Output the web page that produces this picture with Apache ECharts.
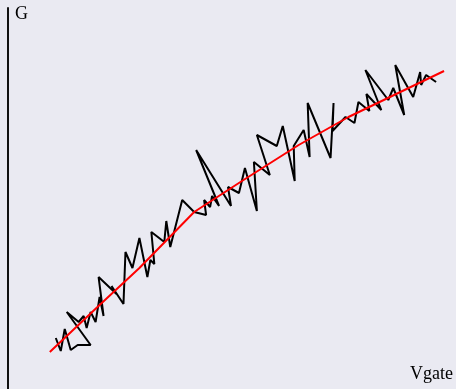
<!DOCTYPE html>
<html>
<head>
<meta charset="utf-8">
<script src="https://cdn.jsdelivr.net/npm/echarts@6/dist/echarts.min.js"></script>
<style>html,body{margin:0;padding:0;background:#eaeaf2}#c{width:456px;height:389px}</style>
</head>
<body>
<div id="c"></div>
<script>
const vgate = [4.8,5.3,5.7,6.3,7.0,8.3,5.9,7.1,7.6,7.9,8.3,8.8,9.2,9.6,9.1,10.9,10.4,11.6,11.8,12.5,13.2,14.0,14.3,14.7,14.4,15.7,15.9,16.3,17.5,18.7,19.9,19.7,20.3,20.5,21.2,18.9,22.4,22.1,23.2,23.8,25.0,24.7,26.3,25.0,27.0,27.6,28.8,28.7,29.7,30.3,30.1,32.4,32.7,32.6,33.9,34.8,35.2,36.3,36.0,37.5,35.9,38.2,38.7,39.8,38.9,40.7,41.4,41.5,42.0,43.0];
const gMeasured = [5.1,3.8,6.0,3.9,4.4,4.4,7.7,6.7,7.3,6.1,7.7,6.7,9.2,7.3,11.2,9.5,10.3,8.5,13.7,12.1,15.1,11.2,12.9,12.5,15.7,14.7,16.8,14.2,18.9,17.7,17.4,18.9,18.2,19.3,18.3,23.9,18.3,20.2,19.6,22.1,17.8,22.7,21.4,25.4,24.3,26.3,20.8,24.3,25.9,23.2,28.6,23.1,28.6,25.8,27.2,26.6,28.7,27.8,29.5,27.9,31.9,28.9,30.1,27.4,32.4,29.2,31.7,30.4,31.4,30.7];
// Fitted curve
const fitVgate = [4.2,9.2,13.2,18.7,23.5,29.2,34.2,39.2,43.8];
const fitG = [3.7,8.4,12.1,17.7,20.8,24.4,27.2,29.6,31.8];

const measured = vgate.map((v,i)=>[v,gMeasured[i]]);
const fit = fitVgate.map((v,i)=>[v,fitG[i]]);

const chart = echarts.init(document.getElementById('c'));
chart.setOption({
  backgroundColor:'#eaeaf2',
  animation:false,
  grid:{left:7,right:0,top:8,bottom:0},
  xAxis:{type:'value',min:-0.1,max:44.8,name:'Vgate',nameLocation:'end',nameGap:0,
    nameTextStyle:{fontFamily:'Liberation Serif',fontSize:18,color:'#000',align:'right',verticalAlign:'bottom',padding:[0,1,6,0]},
    axisLine:{show:false},axisTick:{show:false},axisLabel:{show:false},splitLine:{show:false}},
  yAxis:{type:'value',min:0,max:38.1,name:'G',nameLocation:'end',nameGap:-6,
    nameTextStyle:{fontFamily:'Liberation Serif',fontSize:18,color:'#000',align:'left',verticalAlign:'middle',padding:[0,0,0,7]},
    axisLine:{show:true,lineStyle:{color:'#111',width:2}},axisTick:{show:false},axisLabel:{show:false},splitLine:{show:false}},
  series:[
    {type:'line',data:measured,symbol:'none',lineStyle:{color:'#000',width:2},z:2},
    {type:'line',data:fit,symbol:'none',lineStyle:{color:'#ff0000',width:2},z:3}
  ]
});
</script>
</body>
</html>
